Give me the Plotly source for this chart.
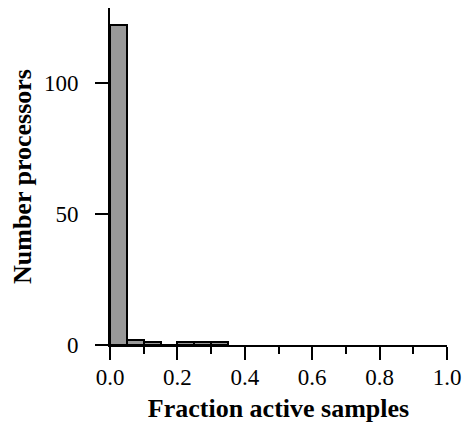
import plotly.graph_objects as go

bin_edges = [0.0, 0.05, 0.10, 0.15, 0.20, 0.25, 0.30, 0.35]
counts = [122, 2, 1, 0, 1, 1, 1]
x_ticks = [0.0, 0.2, 0.4, 0.6, 0.8, 1.0]
x_tick_labels = ["0.0", "0.2", "0.4", "0.6", "0.8", "1.0"]
y_ticks = [0, 50, 100]

centers = [(a + b) / 2 for a, b in zip(bin_edges[:-1], bin_edges[1:])]
widths = [b - a for a, b in zip(bin_edges[:-1], bin_edges[1:])]

fig = go.Figure(go.Bar(
    x=centers, y=counts, width=widths,
    marker=dict(color="#999999", line=dict(color="black", width=2)),
))

font = "Liberation Serif, Times New Roman, serif"
fig.update_layout(
    width=470, height=428,
    margin=dict(l=110, r=23, t=8, b=83),
    plot_bgcolor="white", paper_bgcolor="white",
    showlegend=False,
    font=dict(family=font, color="black", size=23),
    xaxis=dict(
        range=[0, 1], tickvals=x_ticks, ticktext=x_tick_labels,
        showline=True, linecolor="black", linewidth=2,
        ticks="outside", ticklen=13, tickwidth=2, tickcolor="black",
        minor=dict(dtick=0.1, ticks="outside", ticklen=7, tickwidth=2, tickcolor="black", showgrid=False),
        showgrid=False, zeroline=False,
        tickfont=dict(size=23),
        ticklabelstandoff=-3,
        title=dict(text="<b>Fraction active samples</b>", font=dict(size=26), standoff=10),
        automargin=False,
    ),
    yaxis=dict(
        range=[0, 128.6], tickvals=y_ticks,
        showline=True, linecolor="black", linewidth=2,
        ticks="outside", ticklen=13, tickwidth=2, tickcolor="black",
        ticklabelstandoff=12,
        showgrid=False, zeroline=False,
        tickfont=dict(size=23),
        title=dict(text="<b>Number processors</b>", font=dict(size=26), standoff=5),
        automargin=False,
    ),
    bargap=0,
)

fig.write_html(
    "out.html",
    config={"displayModeBar": False},
    post_script="document.body.style.margin='0';document.body.style.padding='0';",
)
